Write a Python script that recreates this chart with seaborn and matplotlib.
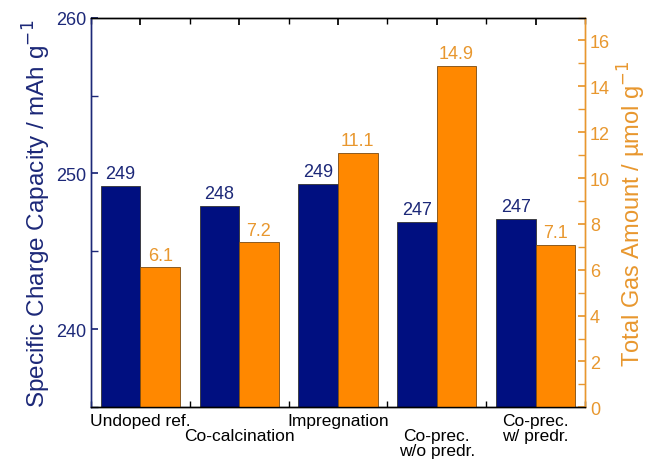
import pandas as pd
import numpy as np
import seaborn as sns
import matplotlib.pyplot as plt
from matplotlib.ticker import MultipleLocator

# data
categories = ["Undoped ref.", "Co-calcination", "Impregnation",
              "Co-prec.\nw/o predr.", "Co-prec.\nw/ predr."]
tick_labels = ["Undoped ref.", "\nCo-calcination", "Impregnation",
               "\nCo-prec.\nw/o predr.", "Co-prec.\nw/ predr."]
capacity = [249.2, 247.9, 249.3, 246.9, 247.1]
capacity_labels = ["249", "248", "249", "247", "247"]
gas = [6.1, 7.2, 11.1, 14.9, 7.1]
gas_labels = ["6.1", "7.2", "11.1", "14.9", "7.1"]

navy = "#000f80"
navy_txt = "#1c2878"
orange = "#ff8800"
orange_txt = "#e8972e"

sns.set_theme(style="white")
plt.rcParams['font.family'] = ['Liberation Sans', 'DejaVu Sans']

df = pd.DataFrame({
    "cat": categories * 2,
    "kind": ["cap"] * 5 + ["gas"] * 5,
    "cap": capacity + [np.nan] * 5,
    "gas": [np.nan] * 5 + gas,
})

fig, ax = plt.subplots(figsize=(6.5, 4.64), dpi=100)
ax2 = ax.twinx()

sns.barplot(data=df, x="cat", y="cap", hue="kind", hue_order=["cap", "gas"],
            palette={"cap": navy, "gas": orange}, order=categories,
            errorbar=None, width=0.8, legend=False, ax=ax,
            edgecolor="#333333", linewidth=0.6, saturation=1)
sns.barplot(data=df, x="cat", y="gas", hue="kind", hue_order=["cap", "gas"],
            palette={"cap": navy, "gas": orange}, order=categories,
            errorbar=None, width=0.8, legend=False, ax=ax2,
            edgecolor="#7a4a10", linewidth=0.6, saturation=1)

ax.set_ylim(235, 260)
ax2.set_ylim(0, 17)
ax.set_xlim(-0.5, 4.5)

# value labels
for i in range(len(categories)):
    ax.text(i - 0.2, capacity[i] + 0.25, capacity_labels[i], ha="center",
            va="bottom", color=navy_txt, fontsize=13)
    ax2.text(i + 0.2, gas[i] + 0.15, gas_labels[i], ha="center",
             va="bottom", color=orange_txt, fontsize=13)

ax.set_xticks(range(len(categories)))
ax.set_xticklabels(tick_labels, fontsize=12.5, color="black", linespacing=1.0)
ax.xaxis.set_minor_locator(MultipleLocator(0.5))
ax.tick_params(axis="x", which="major", bottom=False, top=True,
               direction="in", length=5, color="black", pad=4)
ax.tick_params(axis="x", which="minor", bottom=True, top=True,
               direction="in", length=4, color="black")
ax.set_xlabel("")

ax.set_yticks([240, 250, 260])
ax.yaxis.set_minor_locator(MultipleLocator(5))
ax.tick_params(axis="y", which="both", direction="in", colors=navy_txt,
               labelsize=13, length=5, left=True)
ax.set_ylabel("Specific Charge Capacity / mAh g$^{-1}$", color=navy_txt,
              fontsize=17.5, labelpad=2)

ax2.set_yticks(range(0, 17, 2))
ax2.yaxis.set_minor_locator(MultipleLocator(1))
ax2.tick_params(axis="y", which="both", direction="in", colors=orange_txt,
                labelsize=13, length=5, right=True)
ax2.set_ylabel("Total Gas Amount / µmol g$^{-1}$", color=orange_txt,
               fontsize=17, labelpad=4)

for a in (ax, ax2):
    a.spines["left"].set_color(navy_txt)
    a.spines["right"].set_color(orange_txt)
    a.spines["top"].set_color("black")
    a.spines["bottom"].set_color("black")
    for s in a.spines.values():
        s.set_linewidth(1.0)

fig.subplots_adjust(left=0.14, right=0.9, top=0.96, bottom=0.12)
fig.savefig("out.png", dpi=100)
